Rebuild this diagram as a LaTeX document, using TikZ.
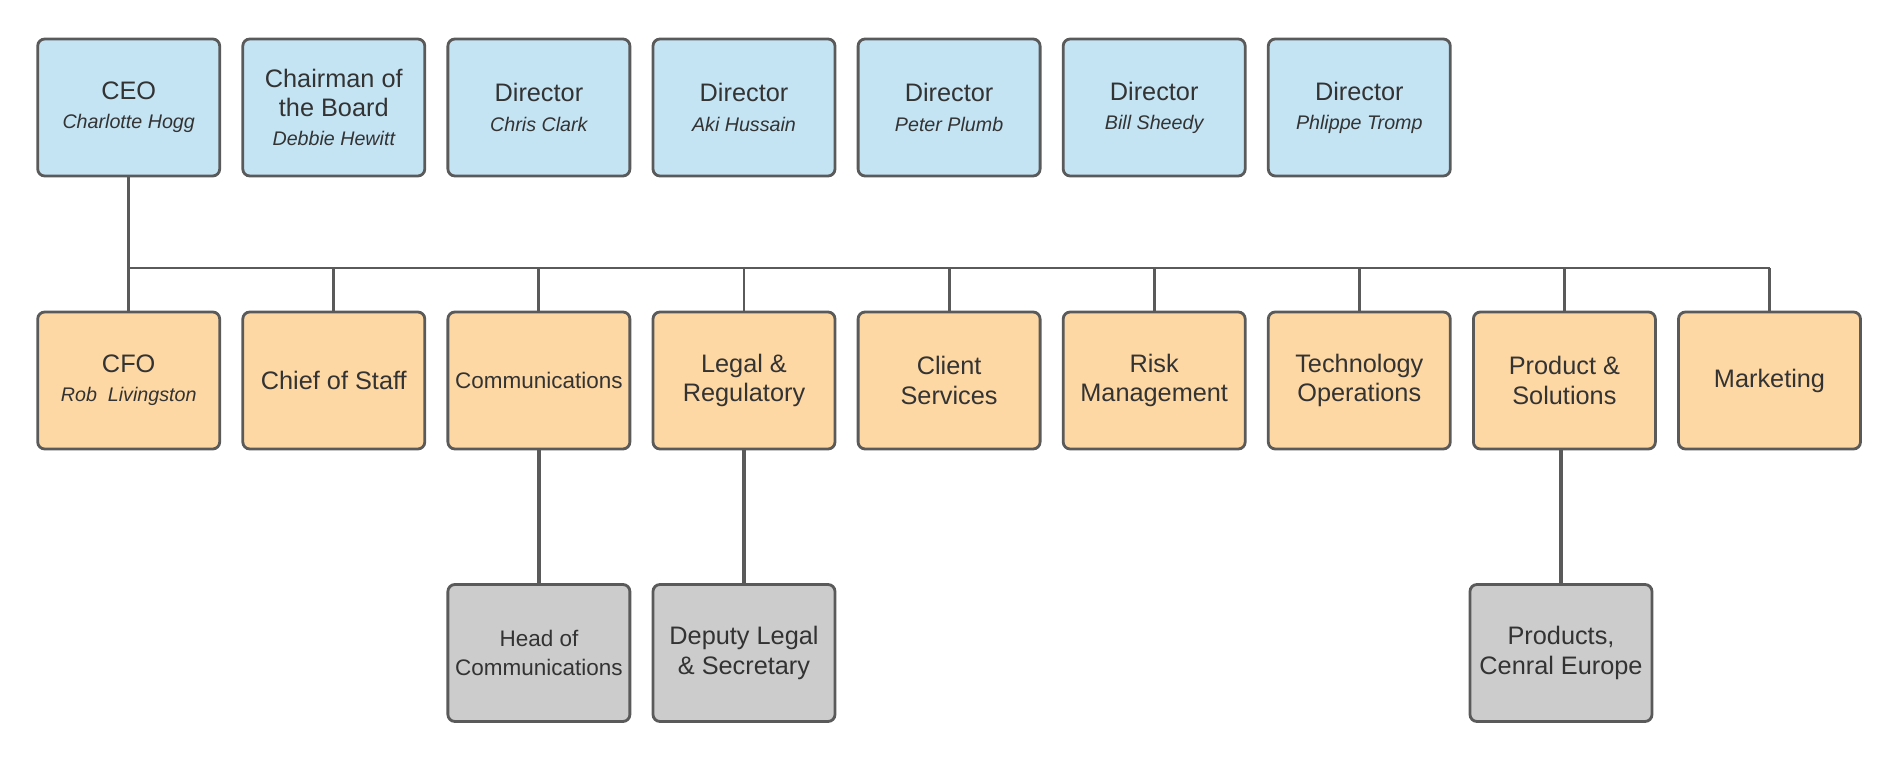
\documentclass[tikz,border=0pt]{standalone}
\usepackage{fontspec}
\setmainfont{Liberation Sans}
\usetikzlibrary{positioning}

\definecolor{boardblue}{HTML}{C4E4F4}
\definecolor{deptorange}{HTML}{FDD8A4}
\definecolor{subgray}{HTML}{CCCCCC}
\definecolor{edgegray}{HTML}{5A5A5A}
\definecolor{inkgray}{HTML}{333333}

\newcommand{\rolename}[1]{{\fontsize{5.6}{7}\selectfont\itshape #1}}

\begin{document}
\begin{tikzpicture}[
    unit/.style={draw=edgegray, line width=0.8pt, rounded corners=0.07cm,
      minimum width=1.82cm, minimum height=1.37cm, inner sep=0pt,
      align=center, text=inkgray, font=\fontsize{7.2}{8.3}\selectfont},
    board/.style={unit, fill=boardblue},
    dept/.style={unit, fill=deptorange},
    sub/.style={unit, fill=subgray},
    link/.style={draw=edgegray, line width=0.8pt},
    droplink/.style={link, line width=1.1pt}
  ]
  \useasboundingbox (0,0) rectangle (19.04,-7.74);

  % board row
  \node[board] (ceo)   at (1.287,-1.075)  {CEO\\\rolename{Charlotte Hogg}};
  \node[board] (chair) at (3.338,-1.075)  {Chairman of\\the Board\\\rolename{Debbie Hewitt}};
  \node[board] (dirA)  at (5.389,-1.075)  {Director\\\rolename{Chris Clark}};
  \node[board] (dirB)  at (7.440,-1.075)  {Director\\\rolename{Aki Hussain}};
  \node[board] (dirC)  at (9.491,-1.075)  {Director\\\rolename{Peter Plumb}};
  \node[board] (dirD)  at (11.542,-1.075) {Director\\\rolename{Bill Sheedy}};
  \node[board] (dirE)  at (13.593,-1.075) {Director\\\rolename{Phlippe Tromp}};

  % departments
  \node[dept] (cfo)    at (1.287,-3.805)  {CFO\\\rolename{Rob\ \ Livingston}};
  \node[dept] (cos)    at (3.338,-3.805)  {Chief of Staff};
  \node[dept, font=\fontsize{6.4}{8}\selectfont] (comm) at (5.389,-3.805) {Communications};
  \node[dept] (legal)  at (7.440,-3.805)  {Legal \&\\Regulatory};
  \node[dept] (client) at (9.491,-3.805)  {Client\\Services};
  \node[dept] (risk)   at (11.542,-3.805) {Risk\\Management};
  \node[dept] (tech)   at (13.593,-3.805) {Technology\\Operations};
  \node[dept] (prod)   at (15.644,-3.805) {Product \&\\Solutions};
  \node[dept] (mkt)    at (17.695,-3.805) {Marketing};

  % second level
  \node[sub, font=\fontsize{6.4}{8}\selectfont] (headcomm) at (5.389,-6.53) {Head of\\Communications};
  \node[sub] (deputy)  at (7.440,-6.53)  {Deputy Legal\\\& Secretary};
  \node[sub] (prodce)  at (15.61,-6.53)  {Products,\\Cenral Europe};

  % connectors
  \coordinate (bus) at (1.287,-2.68);
  \draw[link] (ceo.south) -- (cfo.north);
  \draw[link] (bus) -- (bus -| mkt.north);
  \foreach \d in {cos,comm,legal,client,risk,tech,prod,mkt}
    \draw[link] (\d.north) -- (\d.north |- bus);
  \draw[droplink] (comm.south) -- (headcomm.north);
  \draw[droplink] (legal.south) -- (deputy.north);
  \draw[droplink] (prodce.north) -- (prodce.north |- prod.south);
\end{tikzpicture}
\end{document}
